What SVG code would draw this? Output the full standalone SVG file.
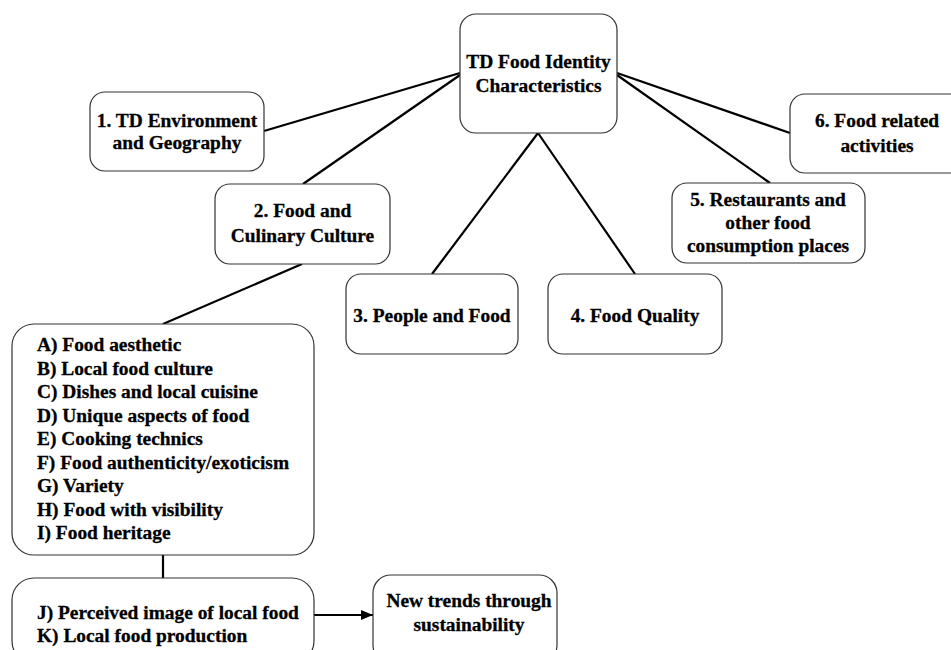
<svg xmlns="http://www.w3.org/2000/svg" width="951" height="650" viewBox="0 0 951 650">
<style>
.box{fill:#fff;stroke:#333;stroke-width:1.2}
.ln{stroke:#000;stroke-width:2.2;fill:none}
text{font-family:"Liberation Serif","Times New Roman",serif;font-weight:bold;font-size:19.4px;fill:#000;stroke:#000;stroke-width:0.3}
.c{text-anchor:middle}
</style>
<defs>
<marker id="ah" viewBox="0 0 12 10" refX="12" refY="5" markerWidth="12" markerHeight="10" markerUnits="userSpaceOnUse" orient="auto">
<path d="M0,0 L12,5 L0,10 z" fill="#000"/>
</marker>
</defs>
<g id="connectors">
<line class="ln" x1="460" y1="73" x2="264" y2="131"/>
<line class="ln" x1="460" y1="75" x2="303" y2="184"/>
<line class="ln" x1="302" y1="264" x2="163" y2="324"/>
<line class="ln" x1="538" y1="133" x2="432" y2="274"/>
<line class="ln" x1="538" y1="133" x2="635" y2="274"/>
<line class="ln" x1="617" y1="73" x2="790" y2="133"/>
<line class="ln" x1="617" y1="75" x2="770" y2="183"/>
<line class="ln" x1="163" y1="555" x2="163" y2="578"/>
<line class="ln" x1="314" y1="615" x2="373" y2="615" marker-end="url(#ah)"/>
</g>
<g id="center">
<rect class="box" x="460" y="14" width="157" height="119" rx="16"/>
<text class="c" x="538.5" y="68">TD Food Identity</text>
<text class="c" x="538.5" y="92">Characteristics</text>
</g>
<g id="n1">
<rect class="box" x="90" y="92" width="174" height="79" rx="15"/>
<text class="c" x="177" y="127">1. TD Environment</text>
<text class="c" x="177" y="149">and Geography</text>
</g>
<g id="n2">
<rect class="box" x="215" y="184" width="175" height="80" rx="15"/>
<text class="c" x="302.5" y="217">2. Food and</text>
<text class="c" x="302.5" y="242">Culinary Culture</text>
</g>
<g id="n3">
<rect class="box" x="346" y="274" width="172" height="80" rx="15"/>
<text class="c" x="432" y="322">3. People and Food</text>
</g>
<g id="n4">
<rect class="box" x="548" y="274" width="174" height="80" rx="15"/>
<text class="c" x="635" y="322">4. Food Quality</text>
</g>
<g id="n5">
<rect class="box" x="672" y="183" width="193" height="80" rx="15"/>
<text class="c" x="768" y="206">5. Restaurants and</text>
<text class="c" x="768" y="229">other food</text>
<text class="c" x="768" y="252">consumption places</text>
</g>
<g id="n6">
<rect class="box" x="790" y="94" width="176" height="79" rx="15"/>
<text class="c" x="877" y="127">6. Food related</text>
<text class="c" x="877" y="152">activities</text>
</g>
<g id="list">
<rect class="box" x="12" y="324" width="302" height="231" rx="22"/>
<text x="37" y="351">A) Food aesthetic</text>
<text x="37" y="374.5">B) Local food culture</text>
<text x="37" y="398">C) Dishes and local cuisine</text>
<text x="37" y="421.5">D) Unique aspects of food</text>
<text x="37" y="445">E) Cooking technics</text>
<text x="37" y="468.5">F) Food authenticity/exoticism</text>
<text x="37" y="492">G) Variety</text>
<text x="37" y="515.5">H) Food with visibility</text>
<text x="37" y="539">I) Food heritage</text>
</g>
<g id="jk">
<rect class="box" x="12" y="578" width="302" height="85" rx="22"/>
<text x="37" y="619">J) Perceived image of local food</text>
<text x="37" y="642">K) Local food production</text>
</g>
<g id="trends">
<rect class="box" x="373" y="575" width="184" height="88" rx="18"/>
<text class="c" x="469" y="607">New trends through</text>
<text class="c" x="469" y="631">sustainability</text>
</g>
</svg>
